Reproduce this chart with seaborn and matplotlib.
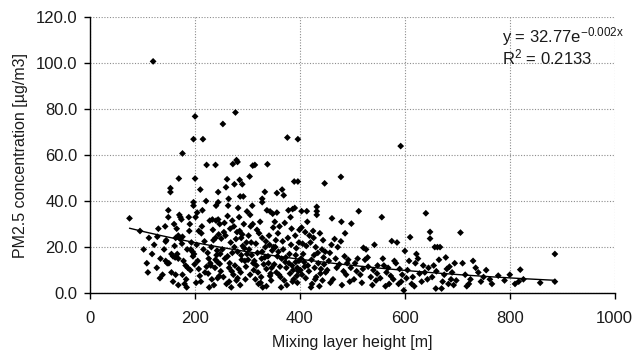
import numpy as np
import pandas as pd
import matplotlib
matplotlib.use("Agg")
import matplotlib.pyplot as plt
from matplotlib.ticker import MultipleLocator, FormatStrFormatter
import seaborn as sns

# Daily observations: mixing layer height [m] and PM2.5 concentration [µg/m3]
mixing_height = [
    75, 95, 102, 108, 112, 118, 122, 127, 130, 134,
    138, 141, 145, 147, 149, 120, 133, 143, 110, 128,
    153, 153, 149, 170, 172, 174, 163, 168, 172, 176,
    170, 144, 175, 155, 158, 162, 166, 168, 144, 150,
    182, 186, 191, 163, 176, 195, 198, 196, 192, 197,
    197, 188, 160, 165, 158, 180, 185, 189, 193, 178,
    183, 155, 168, 190, 176, 169, 197, 161, 184, 199,
    200, 200, 215, 222, 239, 221, 244, 240, 244, 228,
    233, 240, 244, 204, 201, 207, 212, 239, 245, 250,
    224, 226, 229, 230, 239, 243, 247, 207, 209, 211,
    243, 246, 203, 216, 219, 231, 236, 248, 205, 213,
    218, 225, 234, 238, 241, 249, 202, 227, 235, 214,
    242, 210, 222, 232, 247,
    253, 277, 272, 279, 281, 261, 285, 275, 290, 286,
    292, 299, 271, 280, 285, 290, 275, 281, 288, 295,
    273, 279, 286, 281, 259, 263, 256, 268, 265, 252,
    258, 262, 266, 270, 276, 283, 289, 294, 297, 254,
    260, 267, 278, 284, 293, 298, 257, 264, 287, 271,
    282, 296, 255, 269, 291, 262, 274, 299, 288, 265,
    304, 310, 314, 338, 305, 328, 328, 337, 343, 348,
    310, 318, 322, 328, 335, 342, 350, 303, 308, 313,
    317, 328, 333, 340, 346, 305, 315, 325, 336, 345,
    302, 307, 312, 320, 326, 331, 339, 344, 349, 324,
    333, 301, 319, 341, 347, 309, 329, 316, 336, 321,
    311, 334, 343, 306, 327,
    376, 396, 366, 389, 396, 356, 369, 378, 386, 390,
    356, 361, 358, 352, 365, 372, 380, 385, 392, 398,
    355, 363, 370, 375, 381, 388, 395, 353, 367, 383,
    391, 399, 359, 374, 387, 393, 351, 377, 364, 397,
    357, 371, 384, 394, 362, 379, 368, 392, 354, 386,
    373, 398, 360, 382, 395,
    403, 413, 432, 432, 432, 447, 403, 410, 418, 425,
    438, 405, 412, 420, 430, 442, 448, 402, 408, 415,
    422, 428, 435, 440, 445, 404, 411, 423, 431, 443,
    449, 406, 417, 427, 437, 414, 426, 439, 409, 446,
    421, 434, 444, 401, 429,
    478, 461, 479, 498, 460, 466, 472, 478, 455, 485,
    492, 470, 480, 488, 495, 452, 463, 475, 490, 458,
    468, 483, 497, 457, 486,
    512, 510, 521, 526, 505, 515, 530, 540, 548, 503,
    518, 535, 545, 508, 524, 538, 529, 542, 520, 547,
    556, 575, 585, 592, 570, 588, 598, 560, 565, 580,
    590, 595, 553, 568, 578, 583, 558, 573, 593, 563,
    610, 600, 640, 648, 648, 613, 605, 620, 628, 635,
    643, 615, 625, 632, 645, 608, 618, 638, 622, 603,
    657, 662, 667, 659, 670, 655, 665, 675, 680, 688,
    695, 652, 672, 683, 690, 698, 678, 685, 660, 693,
    706, 722, 710, 715, 730, 740, 725, 735, 745, 718,
    766, 778, 820, 817, 826, 858, 886, 886, 762, 800,
    750, 755, 790, 810,
]
pm25 = [
    32.5, 27.0, 19.0, 13.0, 24.0, 17.0, 21.0, 11.0, 28.0, 15.0,
    8.0, 19.0, 23.0, 13.0, 33.0, 100.7, 6.5, 29.0, 9.0, 24.5,
    45.6, 43.9, 36.0, 34.0, 33.0, 32.0, 24.0, 25.0, 23.5, 24.5,
    24.0, 22.4, 21.5, 17.0, 16.0, 15.5, 17.0, 15.0, 14.0, 13.0,
    12.0, 11.0, 10.0, 8.0, 8.0, 18.0, 17.0, 16.0, 19.0, 39.5,
    38.0, 33.0, 30.0, 28.0, 5.0, 4.0, 19.0, 27.0, 22.0, 14.0,
    6.0, 9.0, 3.5, 30.0, 60.7, 49.8, 66.9, 20.5, 2.5, 12.5,
    76.8, 49.8, 66.9, 55.7, 55.7, 40.0, 43.9, 38.0, 39.5, 31.5,
    32.0, 31.5, 32.0, 35.0, 33.0, 27.0, 26.0, 24.0, 25.5, 23.7,
    17.5, 15.0, 13.0, 12.0, 14.5, 13.5, 12.7, 10.5, 7.5, 5.0,
    6.5, 7.4, 21.0, 19.0, 9.0, 20.0, 3.5, 17.0, 14.0, 29.0,
    22.5, 8.5, 27.5, 11.0, 16.5, 9.5, 4.5, 2.5, 23.0, 36.0,
    18.5, 45.0, 11.5, 6.0, 30.0,
    73.5, 78.5, 56.1, 57.8, 57.0, 49.5, 49.2, 47.3, 47.3, 42.0,
    42.0, 35.5, 31.5, 26.5, 27.0, 25.5, 20.0, 18.0, 16.5, 14.0,
    8.0, 5.5, 3.5, 6.5, 46.0, 38.0, 30.5, 22.0, 11.0, 19.0,
    25.0, 16.0, 13.0, 9.5, 12.0, 10.5, 14.5, 19.5, 11.5, 7.0,
    4.0, 28.0, 23.5, 33.0, 30.0, 22.0, 15.0, 41.0, 9.0, 17.5,
    37.0, 6.0, 26.5, 2.5, 20.5, 33.5, 29.0, 17.0, 24.0, 5.0,
    50.7, 55.4, 55.7, 56.0, 34.0, 41.0, 39.5, 36.0, 35.5, 34.5,
    30.0, 27.5, 26.0, 24.0, 22.5, 21.0, 20.0, 19.0, 16.5, 14.0,
    12.0, 18.0, 15.5, 13.0, 11.0, 8.0, 6.0, 4.5, 3.0, 5.5,
    25.0, 22.0, 10.0, 9.0, 7.0, 12.5, 16.0, 8.5, 28.5, 31.0,
    44.0, 14.5, 17.5, 25.0, 18.5, 38.0, 2.5, 21.5, 10.5, 4.0,
    13.0, 20.0, 7.5, 29.0, 15.0,
    67.6, 66.9, 45.0, 48.5, 48.5, 43.5, 42.5, 36.0, 36.5, 37.0,
    35.0, 29.0, 26.0, 31.0, 15.0, 13.5, 17.0, 12.0, 16.5, 14.0,
    9.0, 7.0, 5.5, 3.5, 8.5, 6.0, 4.5, 20.0, 22.5, 21.0,
    25.0, 27.5, 18.0, 11.0, 10.0, 19.5, 12.5, 24.0, 2.5, 9.5,
    16.0, 30.5, 28.0, 7.5, 11.5, 13.0, 19.0, 13.5, 23.0, 5.0,
    15.5, 22.0, 8.0, 33.0, 11.0,
    35.6, 35.6, 37.5, 35.6, 34.0, 47.7, 28.5, 26.5, 25.0, 27.0,
    26.0, 21.5, 20.5, 22.0, 20.0, 19.0, 18.0, 15.0, 13.5, 12.0,
    14.5, 11.0, 13.0, 10.5, 15.5, 8.0, 6.5, 4.0, 7.0, 5.5,
    9.0, 17.0, 9.5, 16.5, 3.0, 31.0, 24.0, 8.5, 11.5, 12.5,
    2.5, 17.5, 23.0, 10.0, 6.0,
    50.5, 32.5, 31.0, 30.2, 21.0, 23.5, 20.0, 22.5, 14.0, 16.0,
    14.5, 11.0, 3.5, 8.0, 5.0, 10.0, 6.0, 12.5, 13.0, 4.5,
    15.0, 9.5, 11.0, 17.5, 26.0,
    35.6, 15.0, 19.7, 19.0, 13.0, 8.0, 11.5, 10.0, 12.0, 6.0,
    4.5, 7.0, 5.5, 9.5, 14.5, 3.5, 15.5, 21.0, 10.5, 8.5,
    33.0, 22.6, 22.0, 63.9, 4.0, 4.0, 1.2, 12.0, 9.0, 14.0,
    10.5, 8.0, 6.5, 11.0, 6.0, 13.0, 15.0, 7.5, 5.0, 3.0,
    24.3, 18.3, 34.7, 26.6, 23.7, 4.0, 10.0, 13.0, 8.5, 12.0,
    6.0, 7.0, 15.0, 5.0, 11.0, 14.0, 3.0, 9.0, 17.0, 6.5,
    20.0, 20.0, 20.0, 2.0, 2.0, 12.0, 14.5, 8.0, 10.5, 6.0,
    13.0, 7.0, 5.0, 4.0, 9.0, 5.5, 15.5, 11.5, 9.5, 3.5,
    26.3, 4.0, 13.0, 8.0, 14.0, 9.0, 6.0, 11.0, 5.0, 3.0,
    4.0, 7.6, 10.2, 5.0, 6.0, 4.5, 17.0, 5.0, 6.0, 8.0,
    7.0, 10.0, 5.5, 4.0,
]

# Exponential trend line y = a * exp(b * x)
trend_a = 32.77
trend_b = -0.002
trend_r2 = 0.2133

df = pd.DataFrame({"height": mixing_height, "pm": pm25})
x_fit = np.linspace(df["height"].min(), df["height"].max(), 200)
fit = pd.DataFrame({"height": x_fit, "pm": trend_a * np.exp(trend_b * x_fit)})

sns.set_theme(style="white")
plt.rcParams["font.family"] = ["Liberation Sans", "DejaVu Sans"]
text_color = "#1a1a1a"

fig = plt.figure(figsize=(6.35, 3.61), dpi=100)
ax = fig.add_axes([0.142, 0.188, 0.826, 0.765])

sns.scatterplot(data=df, x="height", y="pm", ax=ax, marker="D", s=12,
                color="black", edgecolor="none", linewidth=0, zorder=3)
sns.lineplot(data=fit, x="height", y="pm", ax=ax, color="black",
             linewidth=1.0, zorder=4)

ax.set_xlim(0, 1000)
ax.set_ylim(0, 120)
ax.xaxis.set_major_locator(MultipleLocator(200))
ax.yaxis.set_major_locator(MultipleLocator(20))
ax.yaxis.set_major_formatter(FormatStrFormatter("%.1f"))

ax.grid(True, color="#8c8c8c", linestyle=(0, (1.0, 1.5)), linewidth=0.8)
ax.set_axisbelow(True)
for side in ("top", "right"):
    ax.spines[side].set_visible(False)
for side in ("left", "bottom"):
    ax.spines[side].set_color("black")
    ax.spines[side].set_linewidth(1.0)

ax.tick_params(axis="both", which="major", direction="out", length=4,
               width=1.0, color="black", labelsize=12, labelcolor=text_color,
               left=True, bottom=True)
ax.tick_params(axis="x", pad=9)
ax.tick_params(axis="y", pad=5)

ax.set_xlabel("Mixing layer height [m]", fontsize=11.5, color=text_color, labelpad=6)
ax.set_ylabel("PM2.5 concentration [µg/m3]", fontsize=11.5, color=text_color, labelpad=6)

ax.text(786, 111.5, f"y = {trend_a:.2f}e$\\mathregular{{^{{{trend_b:g}x}}}}$",
        fontsize=12, color=text_color, va="center", ha="left")
ax.text(786, 102.5, f"R$\\mathregular{{^2}}$ = {trend_r2:.4f}", fontsize=12,
        color=text_color, va="center", ha="left")

fig.savefig("out.png", dpi=100)
